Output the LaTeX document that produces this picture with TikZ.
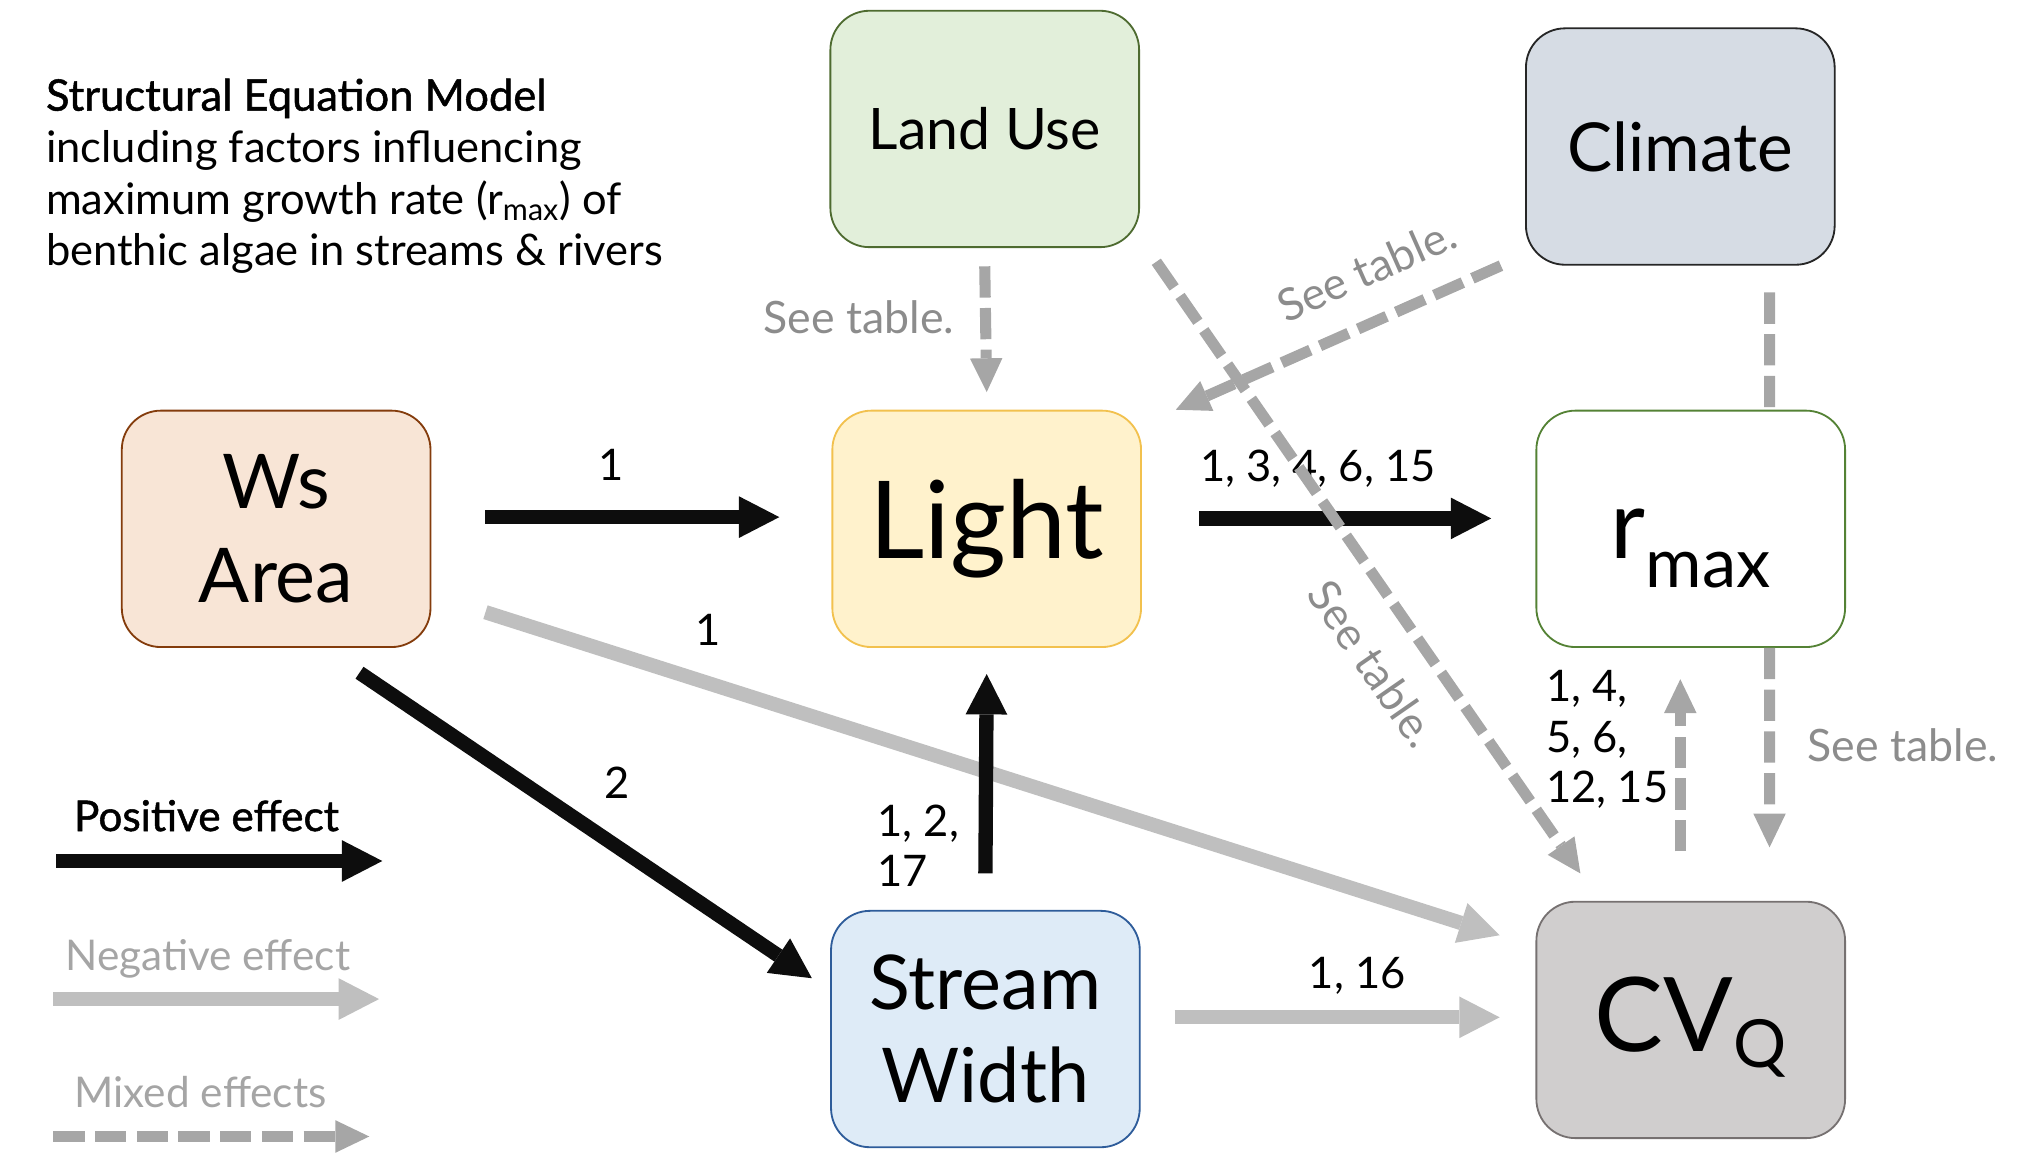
\documentclass[tikz,border=0pt]{standalone}
\usepackage{fontspec}
\setmainfont{Lato}
\newfontfamily\medfont[FakeBold=1.2]{Lato}
\usetikzlibrary{arrows.meta}

\definecolor{landfill}{HTML}{E2EFDA}
\definecolor{landdraw}{HTML}{4E6B30}
\definecolor{climfill}{HTML}{D6DCE4}
\definecolor{climdraw}{HTML}{262626}
\definecolor{wsfill}{HTML}{F8E5D6}
\definecolor{wsdraw}{HTML}{843C0C}
\definecolor{lightfill}{HTML}{FFF2CC}
\definecolor{lightdraw}{HTML}{F2C14E}
\definecolor{rmaxdraw}{HTML}{548235}
\definecolor{streamfill}{HTML}{DEEBF7}
\definecolor{streamdraw}{HTML}{2E5C9A}
\definecolor{cvfill}{HTML}{D0CECE}
\definecolor{cvdraw}{HTML}{767171}
\definecolor{posblack}{HTML}{0D0D0D}
\definecolor{neggray}{HTML}{BFBFBF}
\definecolor{mixgray}{HTML}{A6A6A6}
\definecolor{notegray}{HTML}{8C8C8C}
\definecolor{keygray}{HTML}{A5A5A5}

\begin{document}
\begin{tikzpicture}
    \tikzstyle{every node}=[inner sep=0pt]
    \tikzstyle{box}=[rectangle, rounded corners=0.6cm, minimum width=4.74cm, minimum height=3.63cm, align=center, line width=0.8pt]
    \tikzstyle{posarrow}=[posblack, line width=0.22cm, -{Triangle[length=0.62cm, width=0.64cm, line width=0pt]}]
    \tikzstyle{negarrow}=[neggray, line width=0.22cm, -{Triangle[length=0.62cm, width=0.64cm, line width=0pt]}]
    \tikzstyle{mixline}=[mixgray, line width=0.17cm, dash pattern=on 0.48cm off 0.16cm]
    \tikzstyle{mixarrow}=[mixline, -{Triangle[length=0.52cm, width=0.5cm, line width=0pt]}]
    \tikzstyle{numlabel}=[text=black, font=\fontsize{19}{22}\selectfont]
    \tikzstyle{seelabel}=[text=notegray, font=\fontsize{19.5}{22}\selectfont]
    \tikzstyle{keylabel}=[anchor=base, font=\fontsize{18.5}{22}\selectfont]

    \useasboundingbox (0,0) rectangle (31.2,-17.84);

    % title
    \node[anchor=north west, align=left, font=\fontsize{19}{22.6}\selectfont] (title) at (0.7,-1.2)
        {{\medfont Structural Equation Model}\\including factors influencing\\maximum growth rate (r\textsubscript{max}) of\\benthic algae in streams \& rivers};

    % boxes
    \node[box, fill=landfill, draw=landdraw, font=\fontsize{25}{30}\selectfont] (landuse) at (15.12,-1.98) {Land Use};
    \node[box, fill=climfill, draw=climdraw, font=\fontsize{29.5}{34}\selectfont] (climate) at (25.8,-2.25) {Climate};
    \node[box, fill=wsfill, draw=wsdraw, font=\fontsize{33}{41}\selectfont] (wsarea) at (4.24,-8.12) {Ws\\Area};
    \node[box, fill=lightfill, draw=lightdraw, font=\fontsize{47}{52}\selectfont] (light) at (15.15,-8.12) {Light};
    \node[box, fill=white, draw=rmaxdraw, text height=0.92cm, text depth=0cm] (rmax) at (25.96,-8.12)
        {\fontsize{42}{46}\selectfont r\raisebox{-0.3em}{\fontsize{30}{32}\selectfont max}};
    \node[box, fill=streamfill, draw=streamdraw, font=\fontsize{33}{40.5}\selectfont] (stream) at (15.13,-15.8) {Stream\\Width};
    \node[box, fill=cvfill, draw=cvdraw, text height=0.96cm, text depth=0cm] (cvq) at (25.96,-15.66)
        {\fontsize{45}{50}\selectfont CV\raisebox{-0.16em}{\fontsize{29}{32}\selectfont Q}};

    % negative effects
    \draw[negarrow] ([shift={(0.83,-1.28)}]wsarea.east) -- ([shift={(-0.55,1.3)}]cvq.west)
        node[numlabel, pos=0.22, anchor=base, yshift=0.58cm] {1};
    \draw[negarrow] ([shift={(0.52,0.18)}]stream.east) -- ([shift={(-0.55,0.04)}]cvq.west)
        node[numlabel, midway, anchor=base, xshift=0.31cm, yshift=0.44cm] {1, 16};

    % positive effects
    \draw[posarrow] ([shift={(0.83,0.18)}]wsarea.east) -- ([shift={(-0.8,0.18)}]light.west)
        node[numlabel, midway, anchor=base, xshift=-0.33cm, yshift=0.56cm] {1};
    \draw[posarrow] ([shift={(0.88,0.16)}]light.east) -- ([shift={(-0.68,0.16)}]rmax.west)
        node[numlabel, midway, anchor=base, xshift=-0.42cm, yshift=0.56cm] {1, 3, 4, 6, 15};
    \draw[posarrow] ([shift={(1.28,-0.38)}]wsarea.south) -- ([shift={(-0.28,0.78)}]stream.west)
        node[numlabel, pos=0.57, anchor=base, yshift=0.75cm] {2};
    \draw[posarrow] ([yshift=0.56cm]stream.north) -- ([yshift=-0.4cm]light.south)
        node[numlabel, pos=0.14, anchor=east, xshift=-0.3cm, align=left] {1, 2,\\17};

    % mixed effects
    \draw[mixarrow] ([yshift=-0.28cm]landuse.south) -- ([yshift=0.27cm]light.north)
        node[seelabel, midway, anchor=east, xshift=-0.4cm, yshift=0.18cm] {See table.};
    \draw[mixarrow] ([xshift=-0.37cm]climate.south west) -- ([xshift=0.52cm]light.north east)
        node[seelabel, pos=0.35, sloped, above=0.44cm] {See table.};
    \draw[mixarrow] ([shift={(0.25,-0.21)}]landuse.south east) -- ([shift={(0.69,0.42)}]cvq.north west)
        node[seelabel, pos=0.61, sloped, below=0.44cm] {See table.};
    \draw[mixarrow] ([shift={(-0.16,0.76)}]cvq.north) -- ([shift={(-0.16,-0.48)}]rmax.south)
        node[numlabel, pos=0.65, anchor=east, xshift=-0.1cm, align=left] {1, 4,\\5, 6,\\12, 15};
    \draw[mixarrow] ([xshift=1.21cm]rmax.south) -- ([shift={(1.21,0.82)}]cvq.north)
        node[seelabel, midway, anchor=west, xshift=0.5cm, yshift=0.04cm] {See table.};
    \draw[mixline] ([shift={(1.21,0.04)}]rmax.north) -- ([xshift=1.21cm, yshift=-0.41cm]rmax.north |- climate.south);

    % legend
    \coordinate (posA) at (0.86,-13.22);
    \coordinate (posB) at (5.87,-13.22);
    \coordinate (negA) at (0.82,-15.34);
    \coordinate (negB) at (5.82,-15.34);
    \coordinate (mixA) at (0.82,-17.45);
    \coordinate (mixB) at (5.67,-17.45);
    \draw[posarrow] (posA) -- (posB);
    \draw[negarrow] (negA) -- (negB);
    \draw[mixarrow] (mixA) -- (mixB);
    \node[keylabel, text=black] (poskey) at (3.17,-12.76) {\medfont Positive effect};
    \node[keylabel, text=keygray] (negkey) at (3.19,-14.9) {Negative effect};
    \node[keylabel, text=keygray] (mixkey) at (3.08,-17.0) {Mixed effects};
\end{tikzpicture}
\end{document}
